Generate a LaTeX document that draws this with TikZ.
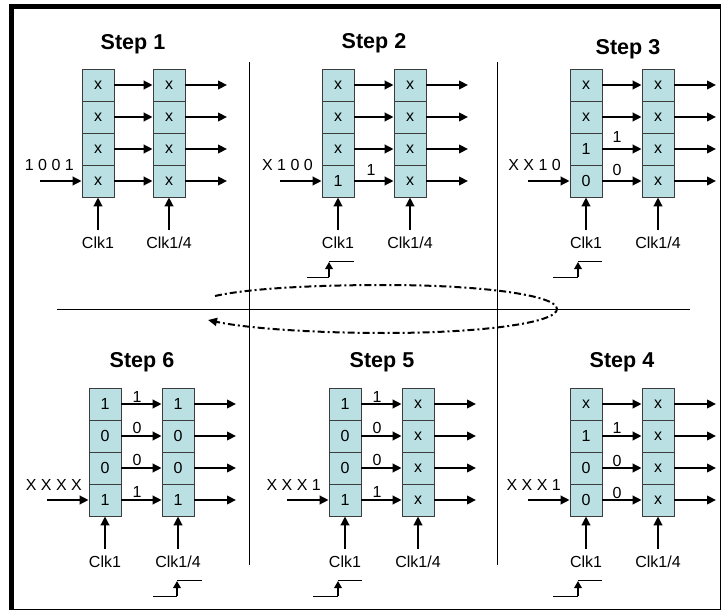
\documentclass[tikz,border=0pt]{standalone}
\usepackage{fontspec}
\setmainfont{Liberation Sans}
\usetikzlibrary{arrows.meta}
\definecolor{cellfill}{RGB}{187,224,227}
\definecolor{celldraw}{RGB}{60,60,60}
\tikzset{
 cell/.style={draw=celldraw, line width=0.8pt, fill=cellfill, minimum width=32pt, minimum height=32pt, inner sep=0pt, font=\fontsize{16}{19}\selectfont},
 arr/.style={line width=2.5pt, -{Triangle[length=9pt,width=8.5pt]}},
 clkarr/.style={line width=2.5pt, -{Triangle[length=7pt,width=7.5pt]}},
 thinl/.style={line width=1pt},
 lbl/.style={inner sep=0pt, font=\fontsize{16}{19}\selectfont},
 ttl/.style={inner sep=0pt, font=\fontsize{21.5}{25}\selectfont\bfseries},
 loopline/.style={line width=2pt, dash pattern=on 7pt off 3pt on 2pt off 3pt, -{Triangle[length=9pt,width=8pt]}},
}
\newcommand\regpanel[6]{%
 \foreach \v [count=\i] in {#5} {\node[cell] (#1a\i) at ({#2+16},{#4+32*\i-16}) {\v};}
 \foreach \v [count=\i] in {#6} {\node[cell] (#1b\i) at ({#3+16},{#4+32*\i-16}) {\raisebox{-1.5pt}{\v}};}
 \foreach \i in {1,...,4} {
   \coordinate (#1o\i) at ({#3+74},{#4+32*\i-16});
   \draw[arr] (#1a\i.east) -- (#1b\i.west);
   \draw[arr] (#1b\i.east) -- (#1o\i);
 }
 \coordinate (#1in) at ({#2-42},{#4+112});
 \draw[arr] (#1in) -- (#1a4.west);
 \coordinate (#1ca) at ({#2+16},{#4+161});
 \coordinate (#1cb) at ({#3+16},{#4+161});
 \draw[arr] (#1ca) -- (#1a4.south);
 \draw[arr] (#1cb) -- (#1b4.south);
 \node[lbl] (#1ka) at ({#2+16},{#4+174}) {Clk1};
 \node[lbl] (#1kb) at ({#3+16},{#4+174}) {Clk1/4};
}
% id, x of riser, y of low line, x left, x right
\newcommand\clocksym[5]{%
 \coordinate (#1p) at (#4,#3);
 \coordinate (#1q) at (#2,#3);
 \coordinate (#1r) at (#2,{#3-15});
 \coordinate (#1s) at (#2,{#3-15.5});
 \coordinate (#1t) at (#5,{#3-15.5});
 \draw[thinl] (#1p) -- (#1q);
 \draw[clkarr] (#1q) -- (#1r);
 \draw[thinl] (#1s) -- (#1t);
}
\begin{document}
\begin{tikzpicture}[x=1pt,y=-1pt]
\useasboundingbox (0,0) rectangle (721,610);
\clip (0,0) rectangle (721,610);
\fill[white] (0,0) rectangle (721,610);
\draw[line width=5pt] (11.5,6.5) rectangle (722,611);

% dividers
\coordinate (v1t) at (249,62); \coordinate (v1b) at (249,565);
\coordinate (v2t) at (497,62); \coordinate (v2b) at (497,565);
\coordinate (hl) at (57,309); \coordinate (hr) at (690,309);
\draw[thinl] (v1t) -- (v1b);
\draw[thinl] (v2t) -- (v2b);
\draw[thinl] (hl) -- (hr);

% titles
\node[ttl] (t1) at (133,44) {Step 1};
\node[ttl] (t2) at (374,43) {Step 2};
\node[ttl] (t3) at (628,49) {Step 3};
\node[ttl] (t6) at (142,362) {Step 6};
\node[ttl] (t5) at (382,362) {Step 5};
\node[ttl] (t4) at (622,362) {Step 4};

% panels
\regpanel{s1}{82}{153}{69}{x,x,x,x}{x,x,x,x}
\regpanel{s2}{322}{394}{69}{x,x,x,1}{x,x,x,x}
\regpanel{s3}{570}{642}{69}{x,x,1,0}{x,x,x,x}
\regpanel{s6}{89}{162}{388}{1,0,0,1}{1,0,0,1}
\regpanel{s5}{329}{402}{388}{1,0,0,1}{x,x,x,x}
\regpanel{s4}{570}{642}{388}{x,1,0,0}{x,x,x,x}

% input strings
\node[lbl, anchor=base east] (s1str) at (74,170) {1 0 0 1};
\node[lbl, anchor=base east] (s2str) at (313,170) {X 1 0 0};
\node[lbl, anchor=base east] (s3str) at (561,170) {X X 1 0};
\node[lbl, anchor=base east] (s6str) at (82,490) {X X X X};
\node[lbl, anchor=base east] (s5str) at (321,490) {X X X 1};
\node[lbl, anchor=base east] (s4str) at (561,490) {X X X 1};

% transfer labels
\node[lbl] (s2l4) at (371,170) {1};
\node[lbl] (s3l3) at (617,137) {1};
\node[lbl] (s3l4) at (617,170) {0};
\node[lbl] (s6l1) at (137,397) {1};
\node[lbl] (s6l2) at (137,428) {0};
\node[lbl] (s6l3) at (137,460) {0};
\node[lbl] (s6l4) at (137,492) {1};
\node[lbl] (s5l1) at (377,397) {1};
\node[lbl] (s5l2) at (377,428) {0};
\node[lbl] (s5l3) at (377,460) {0};
\node[lbl] (s5l4) at (377,492) {1};
\node[lbl] (s4l2) at (617,428) {1};
\node[lbl] (s4l3) at (617,461) {0};
\node[lbl] (s4l4) at (617,493) {0};

% clock edge symbols
\clocksym{c2}{329}{277}{307}{354}
\clocksym{c3}{578}{277}{553}{602}
\clocksym{c6}{177}{596}{153}{202}
\clocksym{c5}{338}{596}{313}{362}
\clocksym{c4}{578}{596}{553}{602}

% loop
\coordinate (e0) at (215,296);
\coordinate (e1) at (385,285);
\coordinate (e2) at (557,309);
\coordinate (e3) at (385,333);
\coordinate (e4) at (208,320);
\draw[loopline] (e0) .. controls (250,288) and (320,285) .. (e1)
  .. controls (480,285) and (557,295) .. (e2)
  .. controls (557,323) and (480,333) .. (e3)
  .. controls (310,333) and (245,328) .. (e4);
\end{tikzpicture}
\end{document}
